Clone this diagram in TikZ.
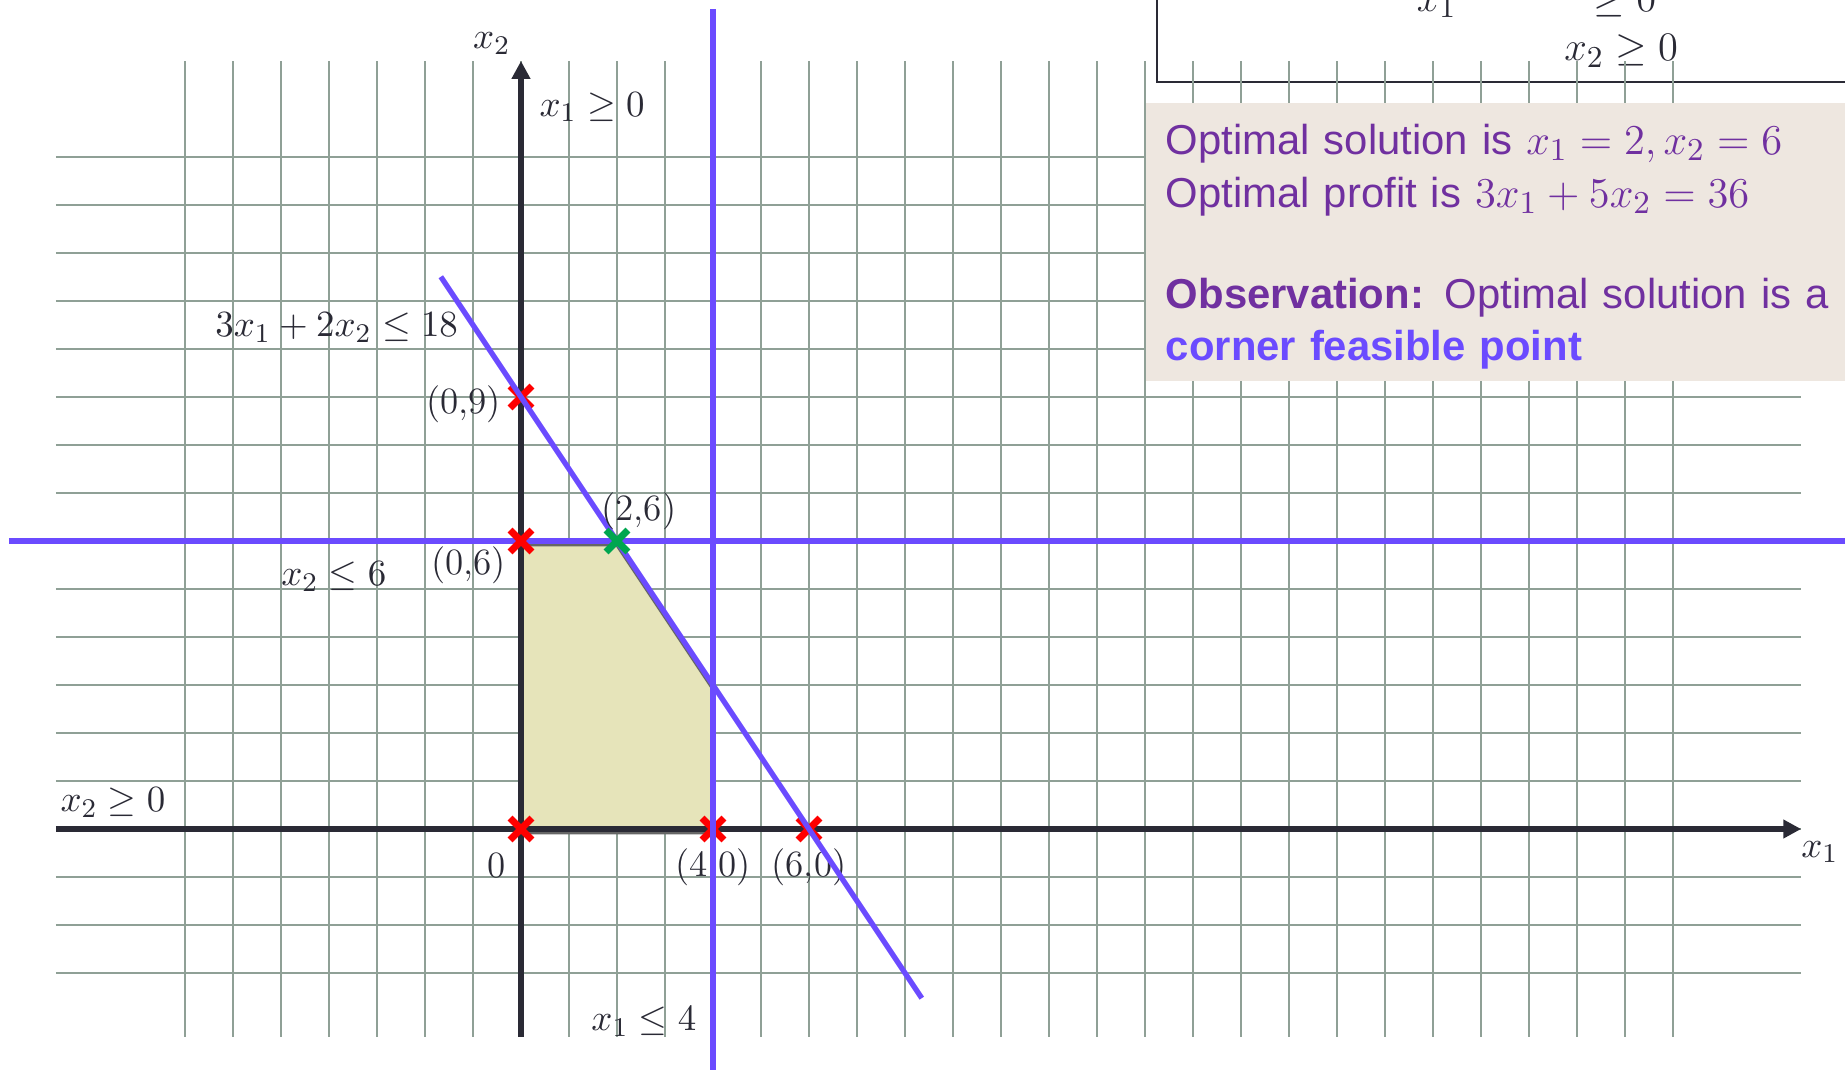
\documentclass[tikz,border=0pt]{standalone}
\usepackage{fontspec}
\newfontfamily\arialfont{Liberation Sans}
\usepackage{graphicx}
\usepackage{tikz}
\usetikzlibrary{arrows.meta, positioning, shapes.misc}
\definecolor{lpgrid}{HTML}{8FA096}
\definecolor{lpaxis}{HTML}{2A2A35}
\definecolor{lpblue}{HTML}{6B4BFF}
\definecolor{lpfeas}{HTML}{E6E4BA}
\definecolor{lppurple}{HTML}{7030A0}
\definecolor{lpbeige}{HTML}{EEE7E0}
\definecolor{lpred}{HTML}{FF0000}
\definecolor{lpgreen}{HTML}{00A650}
\newcommand{\boxmath}[1]{\scalebox{1.05}{$#1$}}

\begin{document}
\begin{tikzpicture}[
    x=0.5cm, y=0.5cm,
    gridline/.style={lpgrid, line width=0.75pt},
    axis/.style={lpaxis, line width=1.5pt, -{Triangle[length=5.3pt, width=5.3pt]}},
    constraint/.style={lpblue, line width=1.6pt},
    feasible/.style={fill=lpfeas, draw=gray!80!black, line width=1.2pt},
    lbl/.style={text=lpaxis, font=\fontsize{11}{13}\selectfont, inner sep=0pt},
    boxtext/.style={text=lpaxis, font=\fontsize{12.5}{15}\selectfont, inner sep=0pt},
    corner/.style={cross out, draw=lpred, line width=2pt, minimum size=4.5pt, inner sep=0pt},
    optimum/.style={corner, draw=lpgreen},
    infobox/.style={
      rectangle, fill=lpbeige, text=lppurple, align=left,
      font=\arialfont\fontsize{12.4}{15.6}\selectfont,
      text width=8cm, inner xsep=6pt, minimum height=2.896cm
    },
  ]

  \clip (-10.854,-5) rectangle (27.583,17.271);

  % constraint list (cut off at the top)
  \draw[lpaxis, line width=0.75pt] (13.25,18) |- (28,15.56);
  \node[boxtext, anchor=base] (listx1) at (19.08,17.04) {$x_1$};
  \node[boxtext, anchor=base] (listgeq) at (23.0,17.04) {$\geq 0$};
  \node[boxtext, anchor=base] (listx2) at (22.92,16.0) {$x_2 \geq 0$};

  % grid
  \foreach \i in {-7,...,24}
    \draw[gridline] (\i,-4.33) -- (\i,16);
  \foreach \j in {-3,...,14}
    \draw[gridline] (-9.69,\j) -- (26.67,\j);

  % result box
  \node[infobox, anchor=north west] (info) at (13,15.146) {%
    \rule{0pt}{12pt}Optimal solution is \boxmath{x_1 = 2, x_2 = 6}\\
    Optimal profit is \boxmath{3x_1 + 5x_2 = 36}\\[14.4pt]
    \textbf{Observation:} Optimal solution is a\\
    \textcolor{lpblue}{\textbf{corner feasible point}}};

  % feasible region
  \filldraw[feasible, yshift=-1pt] (0,0) -- (0,6) -- (2,6) -- (4,3) -- (4,0) -- cycle;

  % axes
  \draw[axis] (-9.69,0) -- (26.67,0);
  \draw[axis] (0,-4.33) -- (0,16);
  \node[lbl] (x2name) at (-0.61,16.36) {$x_2$};
  \node[lbl] (x1name) at (27.06,-0.48) {$x_1$};

  % constraint labels
  \node[lbl] (x1pos) at (1.48,15.04) {$x_1 \geq 0$};
  \node[lbl] (x2pos) at (-8.5,0.55) {$x_2 \geq 0$};
  \node[lbl] (x2max) at (-3.9,5.26) {$x_2 \leq 6$};
  \node[lbl] (x1max) at (2.56,-4.01) {$x_1 \leq 4$};
  \node[lbl] (mixed) at (-3.84,10.45) {$3x_1 + 2x_2 \leq 18$};

  % corner points under the lines
  \node[corner] (p09) at (0,9) {};
  \node[corner] (p40) at (4,0) {};
  \node[corner] (p60) at (6,0) {};

  \node[lbl, left=2.5pt of p09, yshift=-2pt] (l09) {(0,9)};
  \node[lbl, below=2.5pt of p40] (l40) {(4,0)};
  \node[lbl, below=2.5pt of p60] (l60) {(6,0)};

  % constraint lines
  \draw[constraint] (4,17.08) -- (4,-5.1);
  \draw[constraint] (-10.67,6) -- (28,6);
  \draw[constraint] (-1.67,11.505) -- (8.35,-3.525);

  % corner points over the lines
  \node[corner] (p00) at (0,0) {};
  \node[corner] (p06) at (0,6) {};
  \node[optimum] (p26) at (2,6) {};

  \node[lbl, below left=3.5pt and 1pt of p00] (l00) {0};
  \node[lbl, left=1pt of p06, yshift=-7.2pt] (l06) {(0,6)};
  \node[lbl, above=0pt of p26, xshift=6.5pt] (l26) {(2,6)};

\end{tikzpicture}
\end{document}
